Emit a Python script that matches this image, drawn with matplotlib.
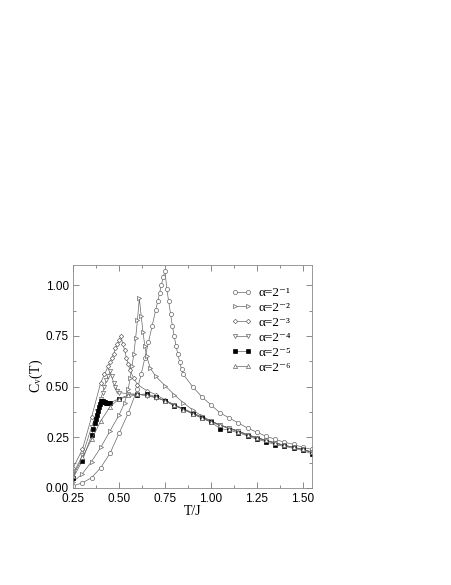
import matplotlib
matplotlib.use('Agg')
import matplotlib.pyplot as plt
from matplotlib.ticker import MultipleLocator

# alpha = 2^-1 (open circles)
t1 = [0.25, 0.30, 0.35, 0.40, 0.45, 0.50, 0.55, 0.60, 0.62, 0.64, 0.66, 0.68, 0.70,
      0.71, 0.72, 0.73, 0.74, 0.75, 0.76, 0.77, 0.78, 0.79, 0.80, 0.81, 0.82, 0.83, 0.84, 0.85,
      0.90, 0.95, 1.00, 1.05, 1.10, 1.15, 1.20, 1.25, 1.30, 1.35, 1.40, 1.45, 1.50, 1.55]
c1 = [0.01, 0.025, 0.05, 0.10, 0.17, 0.27, 0.37, 0.49, 0.56, 0.64, 0.72, 0.80, 0.88,
      0.92, 0.96, 1.00, 1.04, 1.07, 0.98, 0.92, 0.86, 0.80, 0.75, 0.70, 0.66, 0.62, 0.585, 0.56,
      0.50, 0.45, 0.41, 0.37, 0.345, 0.32, 0.295, 0.275, 0.255, 0.24, 0.225, 0.215, 0.20, 0.19]

# alpha = 2^-2 (right triangles)
t2 = [0.25, 0.30, 0.35, 0.40, 0.45, 0.50, 0.53, 0.55,
      0.56, 0.57, 0.58, 0.59, 0.60, 0.61, 0.62, 0.63, 0.64, 0.65, 0.67, 0.70,
      0.75, 0.80, 0.85, 0.90, 0.95, 1.00, 1.05, 1.10, 1.15, 1.20, 1.25, 1.30, 1.35, 1.40, 1.45, 1.50, 1.55]
c2 = [0.03, 0.07, 0.13, 0.20, 0.28, 0.36, 0.42, 0.49,
      0.54, 0.60, 0.66, 0.74, 0.83, 0.935, 0.85, 0.77, 0.70, 0.65, 0.59, 0.55,
      0.505, 0.46, 0.42, 0.385, 0.355, 0.33, 0.31, 0.295, 0.28, 0.26, 0.245, 0.232, 0.22, 0.21, 0.20, 0.19, 0.175]

# alpha = 2^-3 (diamonds)
t3 = [0.25, 0.30, 0.35, 0.40, 0.42, 0.44,
      0.45, 0.46, 0.47, 0.48, 0.49, 0.50, 0.51, 0.52, 0.53, 0.54, 0.55, 0.56, 0.58, 0.60,
      0.65, 0.70, 0.75, 0.80, 0.85, 0.90, 0.95, 1.00, 1.05, 1.10, 1.15, 1.20, 1.25, 1.30, 1.35, 1.40, 1.45, 1.50, 1.55]
c3 = [0.10, 0.19, 0.35, 0.52, 0.56, 0.60,
      0.62, 0.64, 0.66, 0.69, 0.71, 0.73, 0.75, 0.71, 0.68, 0.64, 0.61, 0.58, 0.54, 0.51,
      0.48, 0.46, 0.435, 0.41, 0.39, 0.37, 0.35, 0.33, 0.31, 0.295, 0.28, 0.262, 0.248, 0.235, 0.222, 0.21, 0.20, 0.19, 0.178]

# alpha = 2^-4 (down triangles)
t4 = [0.25, 0.30, 0.35, 0.38, 0.40, 0.41, 0.42, 0.43, 0.44, 0.45, 0.46, 0.47, 0.48, 0.49, 0.50,
      0.55, 0.60, 0.65, 0.70, 0.75, 0.80, 0.85, 0.90, 0.95, 1.00, 1.05, 1.10, 1.15, 1.20, 1.25,
      1.30, 1.35, 1.40, 1.45, 1.50, 1.55]
c4 = [0.07, 0.16, 0.30, 0.38, 0.44, 0.47, 0.50, 0.53, 0.55, 0.575, 0.55, 0.52, 0.50, 0.48, 0.47,
      0.465, 0.462, 0.455, 0.445, 0.43, 0.41, 0.39, 0.37, 0.35, 0.33, 0.31, 0.295, 0.28, 0.262, 0.248,
      0.235, 0.222, 0.21, 0.20, 0.19, 0.175]

# alpha = 2^-5 (filled squares)
t5 = [0.25, 0.30, 0.35, 0.36, 0.37, 0.375, 0.38, 0.385, 0.39, 0.395, 0.40, 0.405, 0.41, 0.415,
      0.42, 0.425, 0.43, 0.435, 0.44, 0.445, 0.45, 0.50, 0.60, 0.65, 0.70,
      0.75, 0.80, 0.85, 0.90, 0.95, 1.00, 1.05, 1.10, 1.15, 1.20, 1.25, 1.30, 1.35, 1.40, 1.45, 1.50, 1.55]
c5 = [0.05, 0.135, 0.26, 0.29, 0.32, 0.34, 0.36, 0.38, 0.40, 0.415, 0.43, 0.43, 0.428, 0.425,
      0.423, 0.422, 0.421, 0.42, 0.42, 0.42, 0.42, 0.44, 0.46, 0.464, 0.45,
      0.43, 0.405, 0.39, 0.365, 0.345, 0.325, 0.293, 0.285, 0.272, 0.257, 0.24, 0.228, 0.213, 0.205, 0.195, 0.185, 0.168]

# alpha = 2^-6 (up triangles)
t6 = [0.25, 0.30, 0.35, 0.40, 0.45, 0.50, 0.55, 0.60, 0.65, 0.70, 0.75, 0.80, 0.85, 0.90,
      0.95, 1.00, 1.05, 1.10, 1.15, 1.20, 1.25, 1.30, 1.35, 1.40, 1.45, 1.50, 1.55]
c6 = [0.06, 0.15, 0.24, 0.33, 0.40, 0.44, 0.458, 0.462, 0.458, 0.448, 0.428, 0.408, 0.386, 0.366,
      0.345, 0.326, 0.308, 0.292, 0.277, 0.262, 0.248, 0.235, 0.222, 0.21, 0.20, 0.19, 0.175]

labels = ['α=2⁻¹', 'α=2⁻²', 'α=2⁻³', 'α=2⁻⁴', 'α=2⁻⁵', 'α=2⁻⁶']

plt.rcParams['mathtext.fontset'] = 'stix'

fig = plt.figure(figsize=(4.52, 5.85), dpi=100)
ax = fig.add_axes([0.162, 0.166, 0.528, 0.381])

gray = '#666666'
series = [(t1, c1, 'o', 'white', 3.0), (t2, c2, '>', 'white', 3.0), (t3, c3, 'D', 'white', 2.3),
          (t4, c4, 'v', 'white', 3.0), (t5, c5, 's', 'black', 2.6), (t6, c6, '^', 'white', 3.0)]
for (t, c, m, fc, ms), lab in zip(series, labels):
    ec = 'black' if fc == 'black' else gray
    ax.plot(t, c, color=gray, lw=0.5, marker=m, ms=ms, mfc=fc, mec=ec, mew=0.5, label=lab)

ax.set_xlim(0.25, 1.55)
ax.set_ylim(0.0, 1.1)
ax.xaxis.set_major_locator(MultipleLocator(0.25))
ax.xaxis.set_minor_locator(MultipleLocator(0.125))
ax.yaxis.set_major_locator(MultipleLocator(0.25))
ax.yaxis.set_minor_locator(MultipleLocator(0.125))
ax.tick_params(which='both', direction='in', top=True, right=True, color='#777777', width=0.6)
ax.tick_params(which='major', length=4, labelsize=8.5)
ax.tick_params(axis='x', which='major', pad=4)
ax.tick_params(axis='y', which='major', pad=3)
ax.tick_params(which='minor', length=2.5)
for lab in ax.get_xticklabels() + ax.get_yticklabels():
    lab.set_family('Liberation Sans')
for s in ax.spines.values():
    s.set_color('#888888')
    s.set_linewidth(0.6)

ax.set_xlabel('T/J', family='Liberation Serif', fontsize=10, labelpad=0)
ax.set_ylabel(r'C$_{\rm v}$(T)', family='Liberation Serif', fontsize=10, labelpad=1)

leg = ax.legend(loc='upper left', bbox_to_anchor=(0.64, 0.925), frameon=False, fontsize=9.5,
                numpoints=2, handlelength=1.6, handletextpad=0.5, labelspacing=0.2,
                borderaxespad=0)
for txt in leg.get_texts():
    txt.set_family(['Liberation Serif', 'DejaVu Serif'])

plt.savefig('out.png', dpi=100)
